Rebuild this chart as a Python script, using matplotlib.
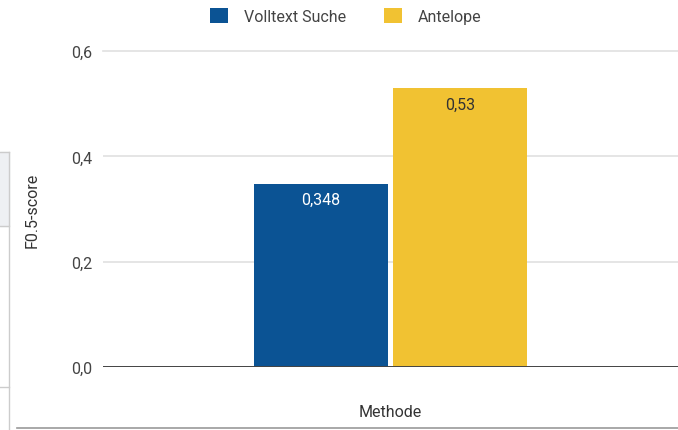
import matplotlib.pyplot as plt
from matplotlib.patches import Patch
from matplotlib.lines import Line2D

plt.rcParams['font.family'] = ['Roboto', 'DejaVu Sans']

methods = ['Volltext Suche', 'Antelope']
scores = [0.348, 0.53]
score_labels = ['0,348', '0,53']
colors = ['#0b5394', '#f1c232']
label_colors = ['white', '#333333']
yticks = [0.0, 0.2, 0.4, 0.6]
ytick_labels = ['0,0', '0,2', '0,4', '0,6']

fig = plt.figure(figsize=(6.78, 4.31), dpi=100)
ax = fig.add_axes([103 / 678, 63 / 431, 575 / 678, 316 / 431])

width = 0.466
offsets = [-0.242, 0.242]
for i in range(len(methods)):
    ax.bar(offsets[i], scores[i], width=width, color=colors[i], zorder=3)
    ax.annotate(score_labels[i], (offsets[i], scores[i]), xytext=(0, -11.5),
                textcoords='offset points', ha='center', va='center',
                color=label_colors[i], fontsize=11.5, zorder=4)

ax.set_xlim(-1, 1)
ax.set_ylim(0, 0.6)
ax.set_yticks(yticks)
ax.set_yticklabels(ytick_labels)
ax.set_xticks([])
ax.grid(axis='y', color='#e0e0e0', linewidth=1.2, zorder=0)
for s in ['top', 'right', 'left', 'bottom']:
    ax.spines[s].set_visible(False)
ax.axhline(0, color='#444444', linewidth=1.4, zorder=5)
ax.tick_params(axis='y', length=0, pad=8, labelsize=11.5, labelcolor='#444444')
for t in ax.get_yticklabels():
    t.set_clip_on(False)
ax.get_ygridlines()[-1].set_clip_on(False)

ax.set_ylabel('F0.5-score', fontsize=11.5, color='#333333', labelpad=22)
ax.set_xlabel('Methode', fontsize=11.5, color='#333333', labelpad=27)

handles = [Patch(facecolor=c, edgecolor='none') for c in colors]
fig.legend(handles, methods, loc='center', bbox_to_anchor=(346 / 678, 1 - 17 / 431),
           ncol=2, frameon=False, fontsize=11.5, handlelength=1.1, handleheight=1.1,
           handletextpad=1.0, columnspacing=2.4, labelcolor='#444444')

# remains of the screenshot at the left edge
fig.add_artist(Line2D([9 / 678, 9 / 678], [0, 1 - 153 / 431], color='#cccccc', lw=1))
for yy in [153, 227, 388]:
    fig.add_artist(Line2D([0, 9 / 678], [1 - yy / 431] * 2, color='#cccccc', lw=1))
fig.add_artist(plt.Rectangle((0, 1 - 227 / 431), 9 / 678, 74 / 431,
                             transform=fig.transFigure, color='#eef0f3', zorder=0))
fig.add_artist(Line2D([17 / 678, 1], [1 - 429 / 431] * 2, color='#999999', lw=1.2))

fig.savefig('out.png', dpi=100)
